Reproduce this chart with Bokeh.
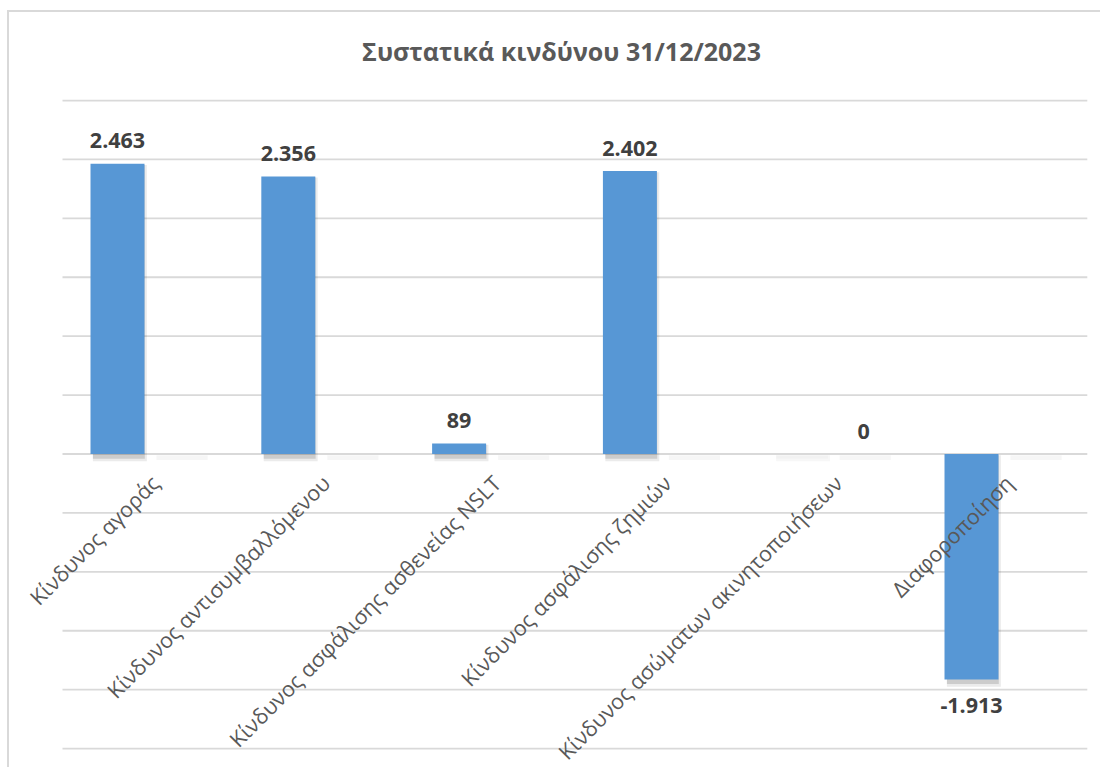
import numpy as np
from math import pi
from bokeh.plotting import figure
from bokeh.models import ColumnDataSource, LabelSet, Label, Range1d
from bokeh.core.properties import value
from bokeh.embed import file_html
from bokeh.resources import INLINE

# ---- data ----
title_text = "Συστατικά κινδύνου 31/12/2023"
categories = [
    "Κίνδυνος αγοράς",
    "Κίνδυνος αντισυμβαλλόμενου",
    "Κίνδυνος ασφάλισης ασθενείας NSLT",
    "Κίνδυνος ασφάλισης ζημιών",
    "Κίνδυνος ασώματων ακινητοποιήσεων",
    "Διαφοροποίηση",
]
values = [2463, 2356, 89, 2402, 0, -1913]
grid_ticks = [-2500, -2000, -1500, -1000, -500, 0, 500, 1000, 1500, 2000, 2500, 3000]

# ---- layout (pixels) ----
W, H = 1093, 757
unit_px = 170.8            # width of one category slot
plot_left_px = 53          # left edge of category area inside canvas
px_per_val = 648 / 5500.0  # vertical scale
zero_px = 441.5            # zero line from canvas top

x_start = -plot_left_px / unit_px
x_end = x_start + W / unit_px
y_end = zero_px / px_per_val
y_start = -(H - zero_px) / px_per_val

# ---- derived table ----
n = len(categories)
vals = np.array(values, dtype=float)
xc = np.arange(n) + 0.5
bar_off, bar_w = -0.178, 0.316
labels = [f"{v:,}".replace(",", ".") for v in values]
src = ColumnDataSource(dict(
    xc=xc,
    xb=xc + bar_off,
    xs1=xc + bar_off + 0.014,
    xs2=xc + bar_off + 0.008,
    xg=xc + 0.20,
    cat=categories,
    val=vals,
    lbl=labels,
    sh_top=np.maximum(vals, 0) - 10,
    sh_bot=np.minimum(vals, 0) - 62,
    sh_bot2=np.minimum(vals, 0) - 40,
    sh_a1=np.where(vals == 0, 0.03, 0.08),
    sh_a2=np.where(vals == 0, 0.02, 0.13),
    lx=np.where(vals == 0, 63, 0),
    ly=np.where(vals >= 0, 23, -26),
))

p = figure(
    width=W, height=H,
    x_range=Range1d(x_start, x_end),
    y_range=Range1d(y_start, y_end),
    output_backend="svg", toolbar_location=None,
    x_axis_location=None, y_axis_location=None,
    min_border=0,
    styles={"margin-left": "7px", "margin-top": "10px",
            "border-left": "2px solid #d9d9d9", "border-top": "2px solid #d9d9d9"},
)
p.outline_line_color = None
p.grid.visible = False
p.background_fill_color = "white"
p.border_fill_color = "white"

# horizontal gridlines
p.segment(x0=0, x1=n, y0=grid_ticks, y1=grid_ticks, line_color="#d9d9d9", line_width=1.8)

# faint ghost shadows of the empty second slot
p.vbar(x="xg", top=-10, bottom=-50, width=0.30, source=src,
       fill_color="black", fill_alpha=0.035, line_color=None)
# bar drop shadows
p.vbar(x="xs1", top="sh_top", bottom="sh_bot", width=bar_w, source=src,
       fill_color="black", fill_alpha="sh_a1", line_color=None)
p.vbar(x="xs2", top="sh_top", bottom="sh_bot2", width=bar_w - 0.012, source=src,
       fill_color="black", fill_alpha="sh_a2", line_color=None)
# bars
p.vbar(x="xb", top="val", bottom=0, width=bar_w, source=src,
       fill_color="#5797d5", line_color=None)

# data labels
p.add_layout(LabelSet(x="xb", y="val", text="lbl", source=src,
                      x_offset="lx", y_offset="ly", text_align="center", text_baseline="middle",
                      text_font=value("Open Sans"), text_font_style="bold",
                      text_font_size="21.5px", text_color="#404040"))

# category labels
p.add_layout(LabelSet(x="xc", y=0, text="cat", source=src, angle=pi / 4,
                      x_offset=7, y_offset=-25, text_align="right", text_baseline="middle",
                      text_font=value("Open Sans"), text_font_size="21.5px", text_color="#595959"))

# title
title_x = x_start + 552 / unit_px
title_y = (zero_px - 38) / px_per_val
p.add_layout(Label(x=title_x, y=title_y, text=title_text, text_align="center", text_baseline="middle",
                   text_font="Open Sans", text_font_style="bold", text_font_size="25px",
                   text_color="#595959"))

open("out.html", "w").write(file_html(p, INLINE))
